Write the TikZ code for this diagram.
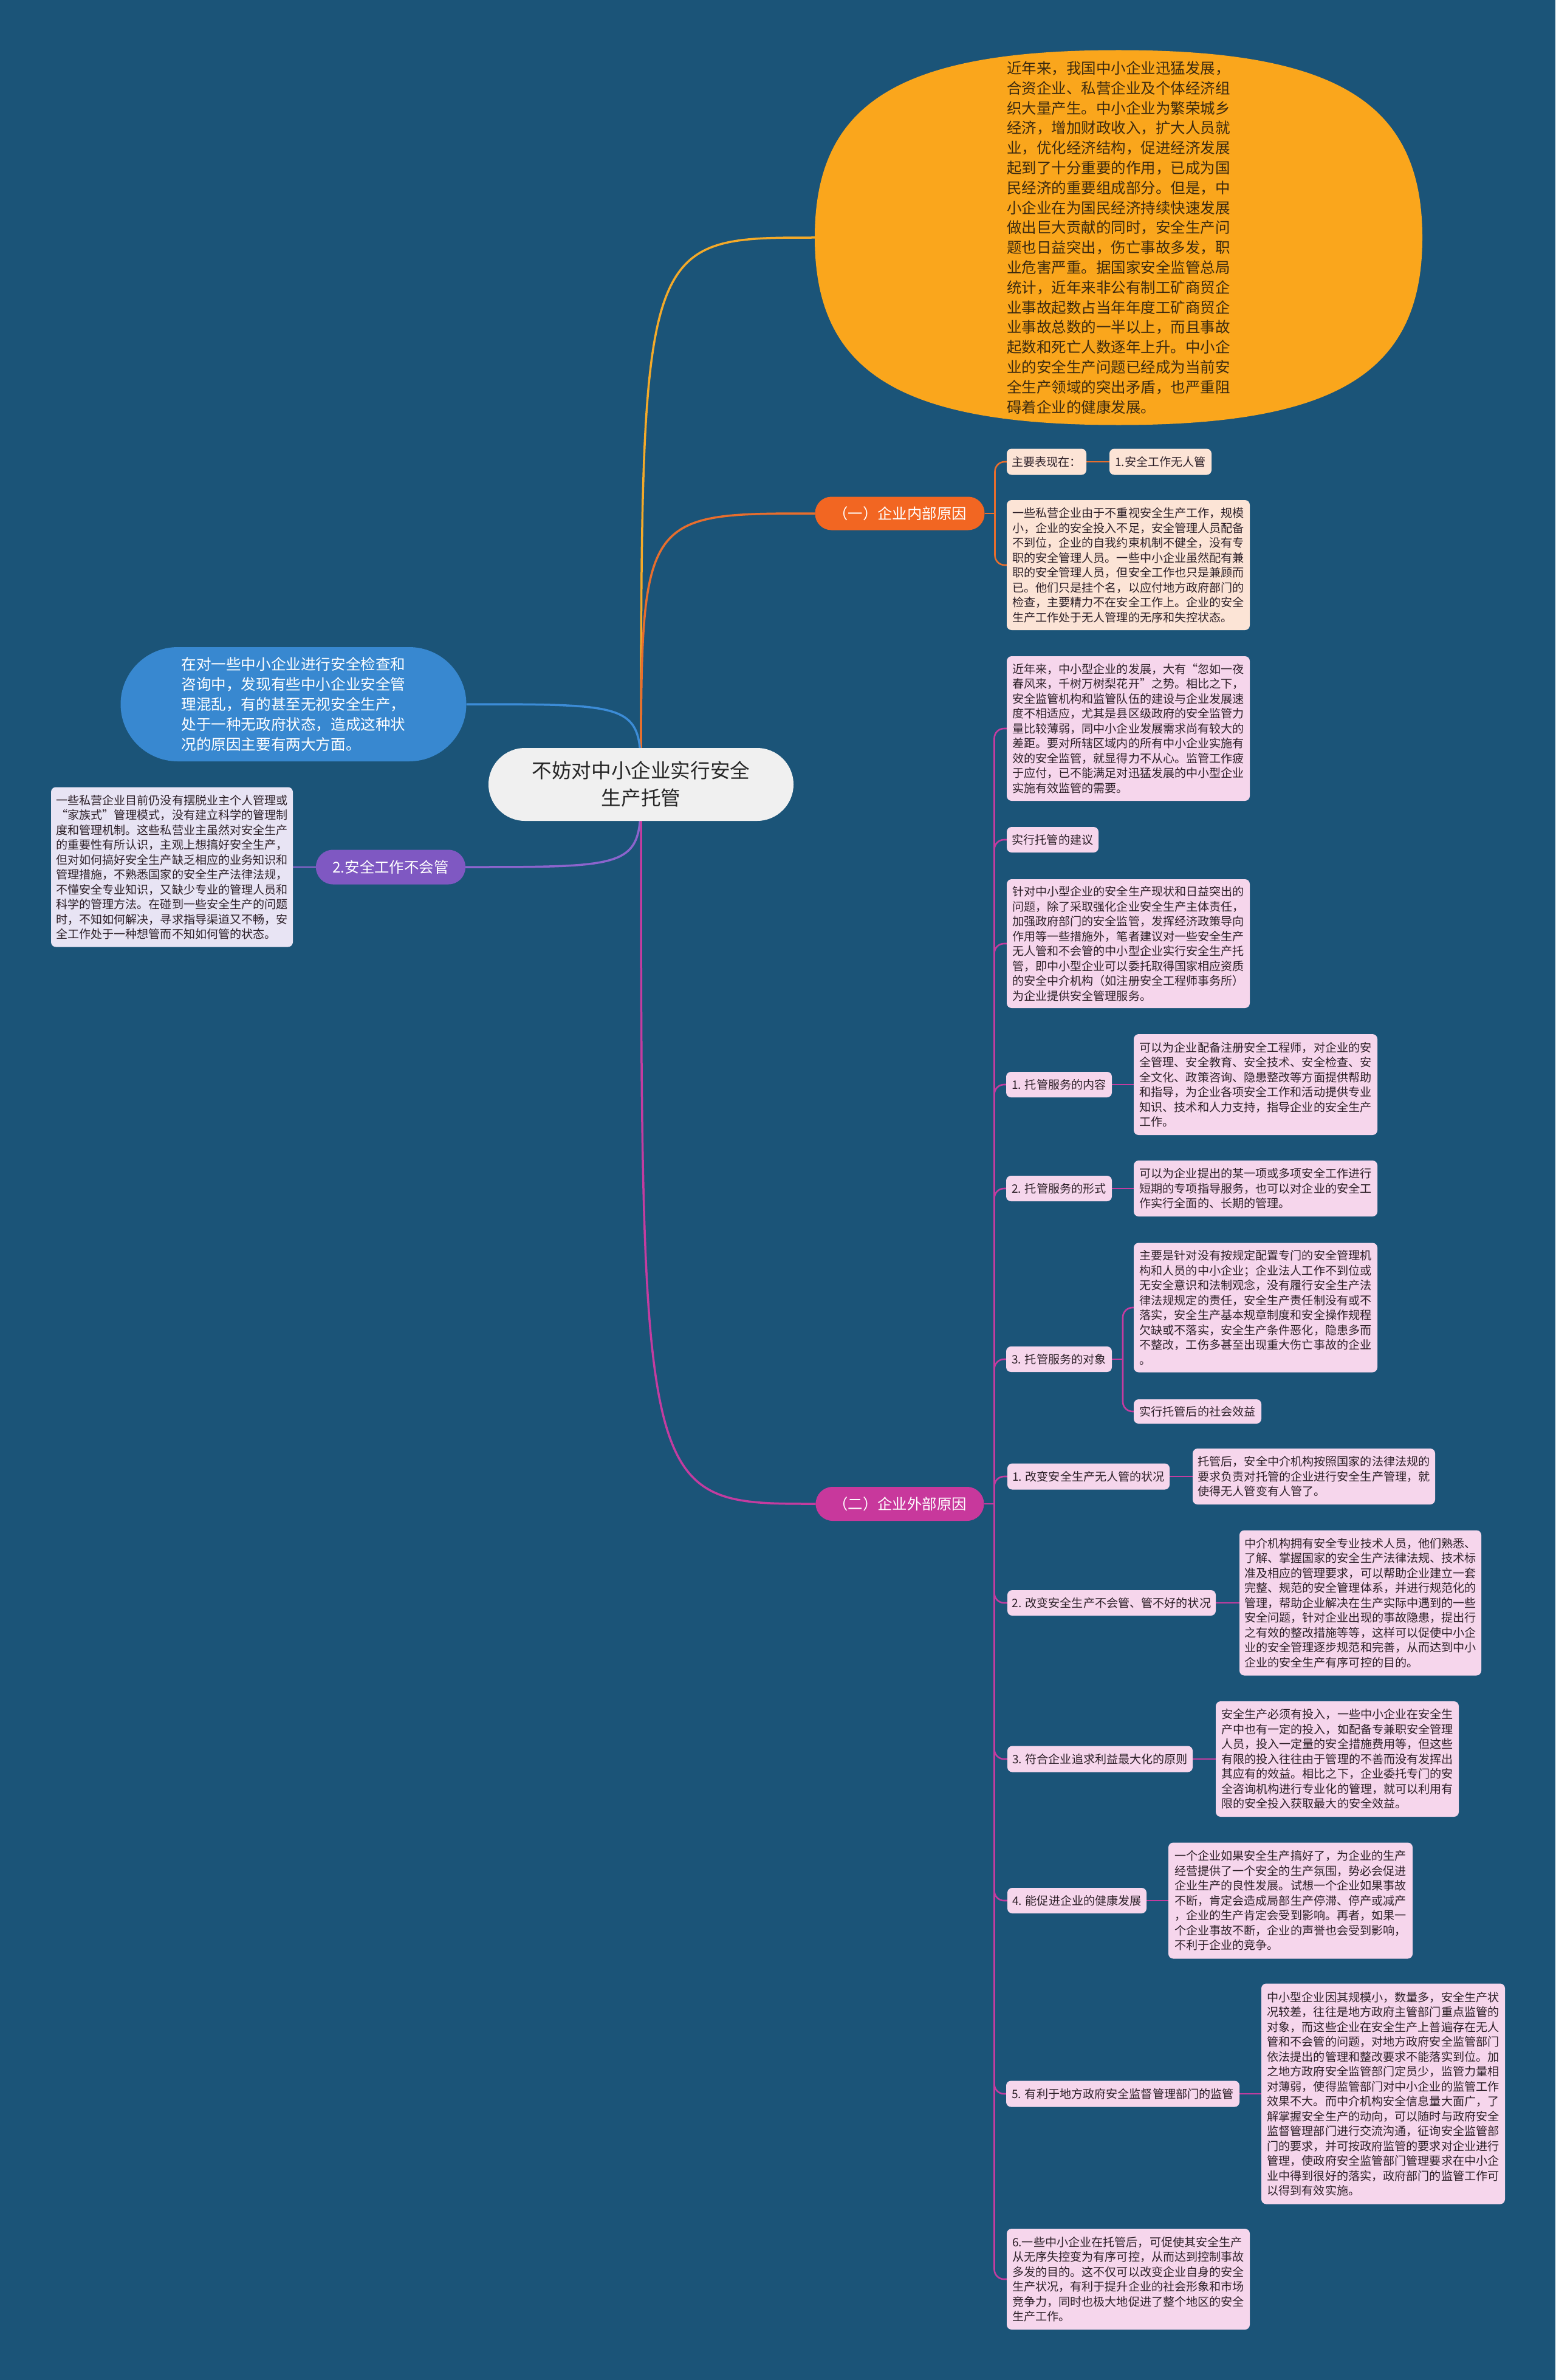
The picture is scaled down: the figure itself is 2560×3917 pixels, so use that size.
\documentclass[tikz,border=0pt]{standalone}
\usepackage{fontspec}
\setmainfont{Noto Sans CJK SC}
\usetikzlibrary{calc}
\definecolor{bgc}{RGB}{27,84,120}
\definecolor{introc}{RGB}{250,166,28}
\definecolor{onec}{RGB}{242,102,34}
\definecolor{peach}{RGB}{252,228,214}
\definecolor{bluec}{RGB}{56,136,208}
\definecolor{purc}{RGB}{127,88,194}
\definecolor{lav}{RGB}{232,228,244}
\definecolor{twoc}{RGB}{200,56,156}
\definecolor{pinkc}{RGB}{246,214,236}
\definecolor{cen}{RGB}{240,240,240}
\definecolor{txt}{RGB}{45,32,40}
\definecolor{introtxt}{RGB}{60,42,15}
\definecolor{introline}{RGB}{245,170,40}
\definecolor{oneline}{RGB}{232,110,45}
\definecolor{blueline}{RGB}{60,140,215}
\definecolor{purline}{RGB}{140,100,205}
\definecolor{twoline}{RGB}{196,60,160}
\pgfdeclarelayer{bg}\pgfdeclarelayer{edges}\pgfsetlayers{bg,edges,main}
\newcommand\boxfont{\fontsize{9.55pt}{12.25pt}\selectfont}
\tikzset{
  every node/.style={inner sep=0pt, outer sep=0pt},
  sz/.style 2 args={minimum width=#1pt, minimum height=#2pt},
  tbox/.style={rounded corners=4pt, align=left, font=\boxfont, text=txt},
  pbox/.style={tbox, fill=peach},
  kbox/.style={tbox, fill=pinkc, anchor=west},
  lbox/.style={tbox, fill=lav},
  branch/.style={text=white, font=\fontsize{12.2pt}{14pt}\selectfont, rounded corners=13.5pt},
  cline/.style={line width=1.75pt},
  sline/.style={line width=1.3pt},
}
\begin{document}
\begin{tikzpicture}[x=0.5pt,y=-0.5pt]
\useasboundingbox (0,0) rectangle (2560,3917);
\begin{pgfonlayer}{bg}
\fill[bgc] (0,0) rectangle (2560,3917);
\end{pgfonlayer}

% intro shape
\fill[introc] (1341,391) .. controls (1341,169) and (1481,82.5) .. (1841,82.5)
  .. controls (2201,82.5) and (2341,169) .. (2341,391)
  .. controls (2341,613) and (2201,699.5) .. (1841,699.5)
  .. controls (1481,699.5) and (1341,613) .. (1341,391) -- cycle;
\node[sz={499.5}{308.5}, align=left, text=introtxt, font=\fontsize{12.25pt}{16.4pt}\selectfont] (intro) at (1841,391) {近年来，我国中小企业迅猛发展，\\合资企业、私营企业及个体经济组\\织大量产生。中小企业为繁荣城乡\\经济，增加财政收入，扩大人员就\\业，优化经济结构，促进经济发展\\起到了十分重要的作用，已成为国\\民经济的重要组成部分。但是，中\\小企业在为国民经济持续快速发展\\做出巨大贡献的同时，安全生产问\\题也日益突出，伤亡事故多发，职\\业危害严重。据国家安全监管总局\\统计，近年来非公有制工矿商贸企\\业事故起数占当年年度工矿商贸企\\业事故总数的一半以上，而且事故\\起数和死亡人数逐年上升。中小企\\业的安全生产问题已经成为当前安\\全生产领域的突出矛盾，也严重阻\\碍着企业的健康发展。};

% root
\node[fill=cen, sz={251}{60}, rounded corners=30pt, align=center, text=black!85, font=\fontsize{16.3pt}{22.5pt}\selectfont] (root) at (1055,1291) {不妨对中小企业实行安全\\生产托管};

% left side
\node[fill=bluec, sz={284.5}{94}, rounded corners=47pt, align=left, text=white, font=\fontsize{12.3pt}{16.5pt}\selectfont] (blue) at (483,1159) {在对一些中小企业进行安全检查和\\咨询中，发现有些中小企业安全管\\理混乱，有的甚至无视安全生产，\\处于一种无政府状态，造成这种状\\况的原因主要有两大方面。};
\node[branch, fill=purc, sz={123}{28.5}, rounded corners=14pt] (pur) at (643,1427) {2.安全工作不会管};
\node[lbox, sz={199}{131.5}] (lav) at (283,1427) {一些私营企业目前仍没有摆脱业主个人管理或\\“家族式”管理模式，没有建立科学的管理制\\度和管理机制。这些私营业主虽然对安全生产\\的重要性有所认识，主观上想搞好安全生产，\\但对如何搞好安全生产缺乏相应的业务知识和\\管理措施，不熟悉国家的安全生产法律法规，\\不懂安全专业知识，又缺少专业的管理人员和\\科学的管理方法。在碰到一些安全生产的问题\\时，不知如何解决，寻求指导渠道又不畅，安\\全工作处于一种想管而不知如何管的状态。};

% branch one
\node[branch, fill=onec, sz={139.5}{27.5}] (one) at (1481,845) {（一）企业内部原因};
\node[pbox, sz={65.5}{21.5}, anchor=west] (p1) at (1657,760) {主要表现在：};
\node[pbox, sz={84}{21.5}, anchor=west] (p2) at (1826,760) {1.安全工作无人管};
\node[pbox, sz={200}{107}, anchor=west] (p3) at (1657,930) {一些私营企业由于不重视安全生产工作，规模\\小，企业的安全投入不足，安全管理人员配备\\不到位，企业的自我约束机制不健全，没有专\\职的安全管理人员。一些中小企业虽然配有兼\\职的安全管理人员，但安全工作也只是兼顾而\\已。他们只是挂个名，以应付地方政府部门的\\检查，主要精力不在安全工作上。企业的安全\\生产工作处于无人管理的无序和失控状态。};

% branch two
\node[branch, fill=twoc, sz={138.5}{28}, rounded corners=14pt] (two) at (1481,2475) {（二）企业外部原因};
\node[kbox, sz={200}{119}] (A) at (1657,1199) {近年来，中小型企业的发展，大有“忽如一夜\\春风来，千树万树梨花开”之势。相比之下，\\安全监管机构和监管队伍的建设与企业发展速\\度不相适应，尤其是县区级政府的安全监管力\\量比较薄弱，同中小企业发展需求尚有较大的\\差距。要对所辖区域内的所有中小企业实施有\\效的安全监管，就显得力不从心。监管工作疲\\于应付，已不能满足对迅猛发展的中小型企业\\实施有效监管的需要。};
\node[kbox, sz={75.5}{21}] (B) at (1657,1382) {实行托管的建议};
\node[kbox, sz={200}{106}] (C) at (1657,1553) {针对中小型企业的安全生产现状和日益突出的\\问题，除了采取强化企业安全生产主体责任，\\加强政府部门的安全监管，发挥经济政策导向\\作用等一些措施外，笔者建议对一些安全生产\\无人管和不会管的中小型企业实行安全生产托\\管，即中小型企业可以委托取得国家相应资质\\的安全中介机构（如注册安全工程师事务所）\\为企业提供安全管理服务。};
\node[kbox, sz={87}{21}] (T1) at (1656,1785) {1. 托管服务的内容};
\node[kbox, sz={200.5}{83}] (T1c) at (1866,1785) {可以为企业配备注册安全工程师，对企业的安\\全管理、安全教育、安全技术、安全检查、安\\全文化、政策咨询、隐患整改等方面提供帮助\\和指导，为企业各项安全工作和活动提供专业\\知识、技术和人力支持，指导企业的安全生产\\工作。};
\node[kbox, sz={87}{21}] (T2) at (1656,1956) {2. 托管服务的形式};
\node[kbox, sz={200.5}{46}] (T2c) at (1866,1956) {可以为企业提出的某一项或多项安全工作进行\\短期的专项指导服务，也可以对企业的安全工\\作实行全面的、长期的管理。};
\node[kbox, sz={87}{21}] (T3) at (1656,2237) {3. 托管服务的对象};
\node[kbox, sz={200.5}{106.5}] (T3c) at (1866,2152) {主要是针对没有按规定配置专门的安全管理机\\构和人员的中小企业；企业法人工作不到位或\\无安全意识和法制观念，没有履行安全生产法\\律法规规定的责任，安全生产责任制没有或不\\落实，安全生产基本规章制度和安全操作规程\\欠缺或不落实，安全生产条件恶化，隐患多而\\不整改，工伤多甚至出现重大伤亡事故的企业\\。};
\node[kbox, sz={105}{20}] (T3d) at (1866,2323) {实行托管后的社会效益};
\node[kbox, sz={133.5}{21.5}] (G1) at (1658,2430) {1. 改变安全生产无人管的状况};
\node[kbox, sz={199.5}{46}] (G1c) at (1963,2430) {托管后，安全中介机构按照国家的法律法规的\\要求负责对托管的企业进行安全生产管理，就\\使得无人管变有人管了。};
\node[kbox, sz={171.5}{21}] (G2) at (1658,2638) {2. 改变安全生产不会管、管不好的状况};
\node[kbox, sz={199}{119.5}] (G2c) at (2040,2638) {中介机构拥有安全专业技术人员，他们熟悉、\\了解、掌握国家的安全生产法律法规、技术标\\准及相应的管理要求，可以帮助企业建立一套\\完整、规范的安全管理体系，并进行规范化的\\管理，帮助企业解决在生产实际中遇到的一些\\安全问题，针对企业出现的事故隐患，提出行\\之有效的整改措施等等，这样可以促使中小企\\业的安全管理逐步规范和完善，从而达到中小\\企业的安全生产有序可控的目的。};
\node[kbox, sz={152.5}{21.5}] (G3) at (1658,2895) {3. 符合企业追求利益最大化的原则};
\node[kbox, sz={200}{95}] (G3c) at (2001,2895) {安全生产必须有投入，一些中小企业在安全生\\产中也有一定的投入，如配备专兼职安全管理\\人员，投入一定量的安全措施费用等，但这些\\有限的投入往往由于管理的不善而没有发挥出\\其应有的效益。相比之下，企业委托专门的安\\全咨询机构进行专业化的管理，就可以利用有\\限的安全投入获取最大的安全效益。};
\node[kbox, sz={114.5}{21}] (G4) at (1658,3128) {4. 能促进企业的健康发展};
\node[kbox, sz={201}{95.5}] (G4c) at (1923,3128) {一个企业如果安全生产搞好了，为企业的生产\\经营提供了一个安全的生产氛围，势必会促进\\企业生产的良性发展。试想一个企业如果事故\\不断，肯定会造成局部生产停滞、停产或减产\\，企业的生产肯定会受到影响。再者，如果一\\个企业事故不断，企业的声誉也会受到影响，\\不利于企业的竞争。};
\node[kbox, sz={192}{21.5}] (G5) at (1656,3446) {5. 有利于地方政府安全监督管理部门的监管};
\node[kbox, sz={200.5}{181.5}] (G5c) at (2076,3446) {中小型企业因其规模小，数量多，安全生产状\\况较差，往往是地方政府主管部门重点监管的\\对象，而这些企业在安全生产上普遍存在无人\\管和不会管的问题，对地方政府安全监管部门\\依法提出的管理和整改要求不能落实到位。加\\之地方政府安全监管部门定员少，监管力量相\\对薄弱，使得监管部门对中小企业的监管工作\\效果不大。而中介机构安全信息量大面广，了\\解掌握安全生产的动向，可以随时与政府安全\\监督管理部门进行交流沟通，征询安全监管部\\门的要求，并可按政府监管的要求对企业进行\\管理，使政府安全监管部门管理要求在中小企\\业中得到很好的落实，政府部门的监管工作可\\以得到有效实施。};
\node[kbox, sz={200}{83}] (G6) at (1657,3751) {6.一些中小企业在托管后，可促使其安全生产\\从无序失控变为有序可控，从而达到控制事故\\多发的目的。这不仅可以改变企业自身的安全\\生产状况，有利于提升企业的社会形象和市场\\竞争力，同时也极大地促进了整个地区的安全\\生产工作。};

\begin{pgfonlayer}{edges}
% root connectors
\draw[cline, introline] (root.center) .. controls (root.center |- intro.west) .. (intro.west);
\draw[cline, oneline] (root.center) .. controls (root.center |- one.west) .. (one.west);
\draw[cline, blueline] (root.center) .. controls (root.center |- blue.east) .. (blue.east);
\draw[cline, purline] (root.center) .. controls (root.center |- pur.east) .. (pur.east);
\draw[cline, twoline] (root.center) .. controls (root.center |- two.west) .. (two.west);
% left
\draw[sline, purline] (pur.west) -- (lav.east);
% branch one
\draw[sline, oneline] (one.east) -- ++(17,0) coordinate (onesp);
\draw[sline, oneline, rounded corners=8pt] (onesp) |- (p1.west);
\draw[sline, oneline, rounded corners=8pt] (onesp) |- (p3.west);
\draw[sline, oneline] (p1.east) -- (p2.west);
% branch two
\draw[sline, twoline] (two.east) -- ++(17,0) coordinate (twosp);
\foreach \c in {A,B,C,T1,T2,T3,G1,G2,G3,G4,G5,G6}
  \draw[sline, twoline, rounded corners=8pt] (twosp) |- (\c.west);
\draw[sline, twoline] (T1.east) -- (T1c.west);
\draw[sline, twoline] (T2.east) -- (T2c.west);
\draw[sline, twoline] (T3.east) -- ++(18,0) coordinate (t3sp);
\draw[sline, twoline, rounded corners=8pt] (t3sp) |- (T3c.west);
\draw[sline, twoline, rounded corners=8pt] (t3sp) |- (T3d.west);
\draw[sline, twoline] (G1.east) -- (G1c.west);
\draw[sline, twoline] (G2.east) -- (G2c.west);
\draw[sline, twoline] (G3.east) -- (G3c.west);
\draw[sline, twoline] (G4.east) -- (G4c.west);
\draw[sline, twoline] (G5.east) -- (G5c.west);
\end{pgfonlayer}
\end{tikzpicture}
\end{document}
